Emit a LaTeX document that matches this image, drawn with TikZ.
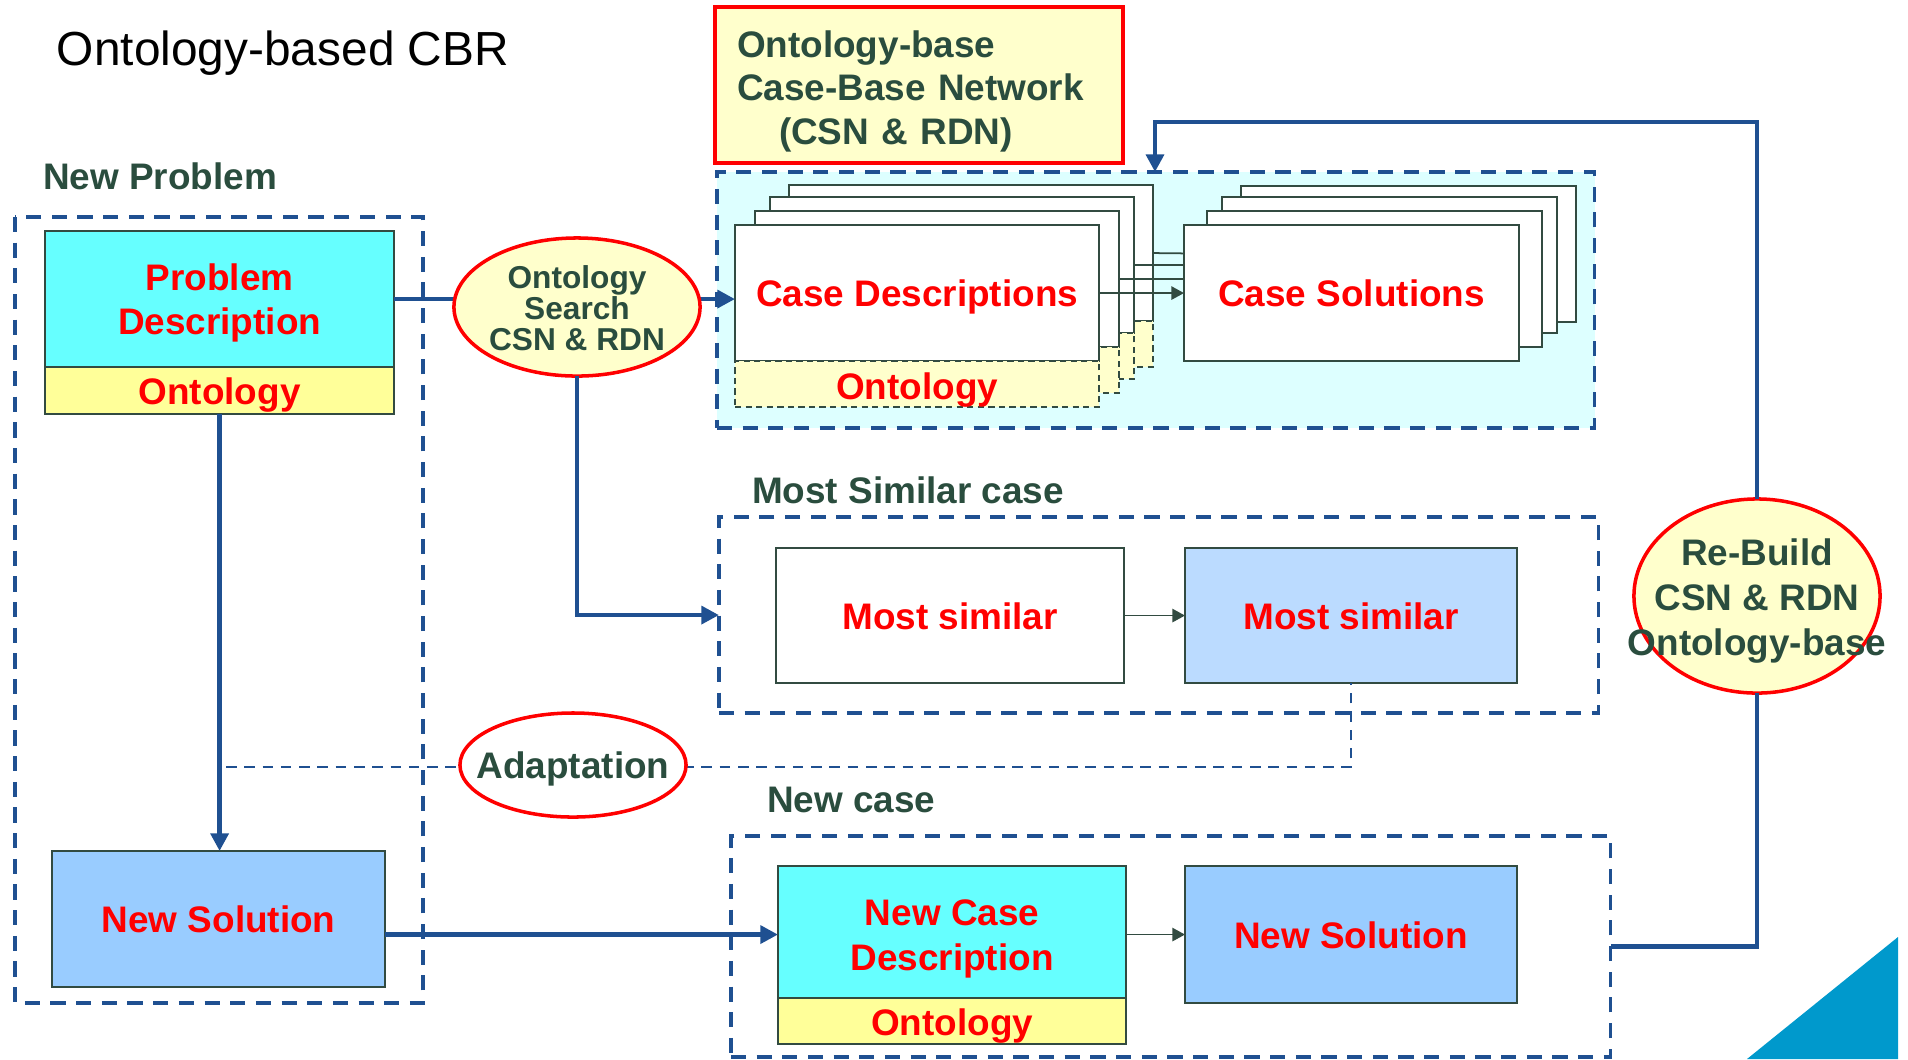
\documentclass[tikz,border=0pt]{standalone}
\usepackage{fontspec}
\setmainfont{Liberation Sans}
\usetikzlibrary{arrows.meta,shapes.geometric}

\definecolor{lineblue}{RGB}{31,80,145}
\definecolor{txtgreen}{RGB}{42,77,62}
\definecolor{edgegray}{RGB}{50,75,65}
\definecolor{cyanfill}{RGB}{102,255,255}
\definecolor{ontoyellow}{RGB}{255,255,153}
\definecolor{paleyellow}{RGB}{255,255,204}
\definecolor{solblue}{RGB}{153,204,255}
\definecolor{simblue}{RGB}{187,219,255}
\definecolor{basecyan}{RGB}{221,255,255}
\definecolor{cornerblue}{RGB}{0,153,204}

\tikzset{
  every node/.style={inner sep=0pt, outer sep=0pt},
  bigtext/.style={font=\fontsize{10.5}{12.7}\selectfont\bfseries, align=center},
  redtext/.style={bigtext, text=red},
  greentext/.style={bigtext, text=txtgreen},
  smalltext/.style={font=\fontsize{9}{8.8}\selectfont\bfseries, align=center, text=txtgreen},
  panel/.style={draw=lineblue, line width=1.1pt, dash pattern=on 4.3pt off 3pt},
  card/.style={draw=edgegray, line width=0.5pt, anchor=north west},
  ontoband/.style={card, fill=ontoyellow},
  caseband/.style={card, fill=paleyellow, dash pattern=on 1.8pt off 1.2pt},
  bubble/.style={ellipse, draw=red, line width=1pt},
  flow/.style={draw=lineblue, line width=1.3pt},
  flowarrow/.style={flow, -{Triangle[length=5pt,width=5pt]}},
  thinarrow/.style={draw=edgegray, line width=0.5pt, -{Triangle[length=3.6pt,width=3.8pt]}},
  adaptline/.style={draw=lineblue, line width=0.7pt, dash pattern=on 3pt off 2.2pt},
}

\begin{document}
\begin{tikzpicture}[x=0.01cm, y=-0.01cm]
\useasboundingbox (0,0) rectangle (1908,1059);

% title
\node[anchor=west, font=\fontsize{13.6}{16}\selectfont] (title) at (57,53) {Ontology-based CBR};

% case-base network caption
\node[draw=red, line width=1.2pt, fill=paleyellow, anchor=north west,
      minimum width=4.08cm, minimum height=1.56cm] (cbn) at (715,7) {};
\node[text width=3.64cm, align=left, font=\fontsize{10.5}{12.4}\selectfont\bfseries, text=txtgreen]
      (cbntext) at ([yshift=-0.06cm]cbn.center) {Ontology-base\\Case-Base Network\\\hspace*{0.42cm}(CSN \& RDN)};

% ---------- new problem ----------
\node[greentext, anchor=west] (nplabel) at (43,176) {New Problem};
\draw[panel] (15,217) rectangle (423,1003);
\node[card, fill=cyanfill, minimum width=3.49cm, minimum height=1.36cm] (pd) at (45,231) {};
\node[redtext] (pdtext) at ([yshift=-0.04cm]pd.center) {Problem\\Description};
\node[ontoband, minimum width=3.49cm, minimum height=0.47cm] (pdo) at (pd.south west) {};
\node[redtext] (pdotext) at ([yshift=-0.04cm]pdo.center) {Ontology};
\node[card, fill=solblue, minimum width=3.33cm, minimum height=1.36cm] (nsl) at (52,851) {};
\node[redtext] (nsltext) at (nsl.center) {New Solution};

% ---------- case base ----------
\node[panel, fill=basecyan, anchor=north west, minimum width=8.77cm, minimum height=2.56cm] (cbp) at (717,172) {};
\foreach \k/\cx/\cy/\sx/\sy in {4/789/185/1241/186, 3/770/197/1222/197, 2/755/211/1207/211, 1/735/225/1184/225}{
  \node[card, fill=white, minimum width=3.64cm, minimum height=1.36cm] (cd\k) at (\cx,\cy) {};
  \node[caseband, minimum width=3.64cm, minimum height=0.46cm] (cdo\k) at (cd\k.south west) {};
  \node[card, fill=white, minimum width=3.35cm, minimum height=1.36cm] (cs\k) at (\sx,\sy) {};
  \draw[thinarrow] (cd\k.east) -- (cs\k.west);
}
\node[redtext] (cdtext) at ([yshift=-0.04cm]cd1.center) {Case Descriptions};
\node[redtext] (cdotext) at ([yshift=-0.06cm]cdo1.center) {Ontology};
\node[redtext] (cstext) at (cs1.center) {Case Solutions};

% ---------- most similar case ----------
\node[greentext, anchor=west] (mslabel) at (752,490) {Most Similar case};
\node[panel, anchor=north west, minimum width=8.79cm, minimum height=1.96cm] (msp) at (719,517) {};
\node[card, fill=white, minimum width=3.48cm, minimum height=1.35cm] (ms1) at (776,548) {};
\node[redtext] (ms1text) at ([yshift=-0.01cm]ms1.center) {Most similar};
\node[card, fill=simblue, minimum width=3.32cm, minimum height=1.35cm] (ms2) at (1185,548) {};
\node[redtext] (ms2text) at ([yshift=-0.01cm]ms2.center) {Most similar};
\draw[thinarrow] (ms1.east) -- (ms2.west);

% ---------- new case ----------
\node[greentext, anchor=west] (nclabel) at (767,800) {New case};
\node[panel, anchor=north west, minimum width=8.79cm, minimum height=2.21cm] (ncp) at (731,836) {};
\node[card, fill=cyanfill, minimum width=3.48cm, minimum height=1.32cm] (ncd) at (778,866) {};
\node[redtext] (ncdtext) at ([yshift=-0.07cm]ncd.center) {New Case\\Description};
\node[ontoband, minimum width=3.48cm, minimum height=0.46cm] (ncdo) at (ncd.south west) {};
\node[redtext] (ncdotext) at ([yshift=-0.05cm]ncdo.center) {Ontology};
\node[card, fill=solblue, minimum width=3.32cm, minimum height=1.37cm] (ncs) at (1185,866) {};
\node[redtext] (ncstext) at ([yshift=-0.01cm]ncs.center) {New Solution};
\draw[thinarrow] (ncs.west -| ncd.east) -- (ncs.west);

% ---------- adaptation ----------
\coordinate (adl) at (226,767);
\draw[adaptline] (adl) -- (adl -| ms2.south) -- (ms2.south);
\node[bubble, fill=white, minimum width=2.26cm, minimum height=1.04cm] (adapt) at (573,765) {};
\node[greentext] (adapttext) at ([yshift=-0.04cm]adapt.center) {Adaptation};

% ---------- main flow ----------
\draw[flowarrow] (pd.east) -- (pd.east -| cd1.west);
\draw[flowarrow] (pdo.south) -- (pdo.south |- nsl.north);
\draw[flowarrow] (ncs.west -| nsl.east) -- (ncs.west -| ncd.west);

\node[bubble, fill=paleyellow, minimum width=2.46cm, minimum height=1.38cm] (search) at (577,307) {};
\node[smalltext] (searchtext) at ([yshift=-0.015cm]search.center) {Ontology\\Search\\CSN \& RDN};
\draw[flowarrow] (search.south) |- (msp.west);

% ---------- rebuild loop ----------
\node[bubble, fill=paleyellow, minimum width=2.46cm, minimum height=1.94cm] (rb) at (1757,596) {};
\coordinate (topturn) at (1155,122);
\draw[flowarrow] (rb.north) -- (rb.north |- topturn) -- (topturn) -- (topturn |- cbp.north);
\draw[flow] (rb.south) |- (ncp.east);
\node[greentext] (rbtext) at ([yshift=-0.05cm]rb.center) {Re-Build\\CSN \& RDN\\Ontology-base};

% corner decoration
\fill[cornerblue] (1747,1059) -- (1898,937) -- (1898,1059) -- cycle;
\end{tikzpicture}
\end{document}
